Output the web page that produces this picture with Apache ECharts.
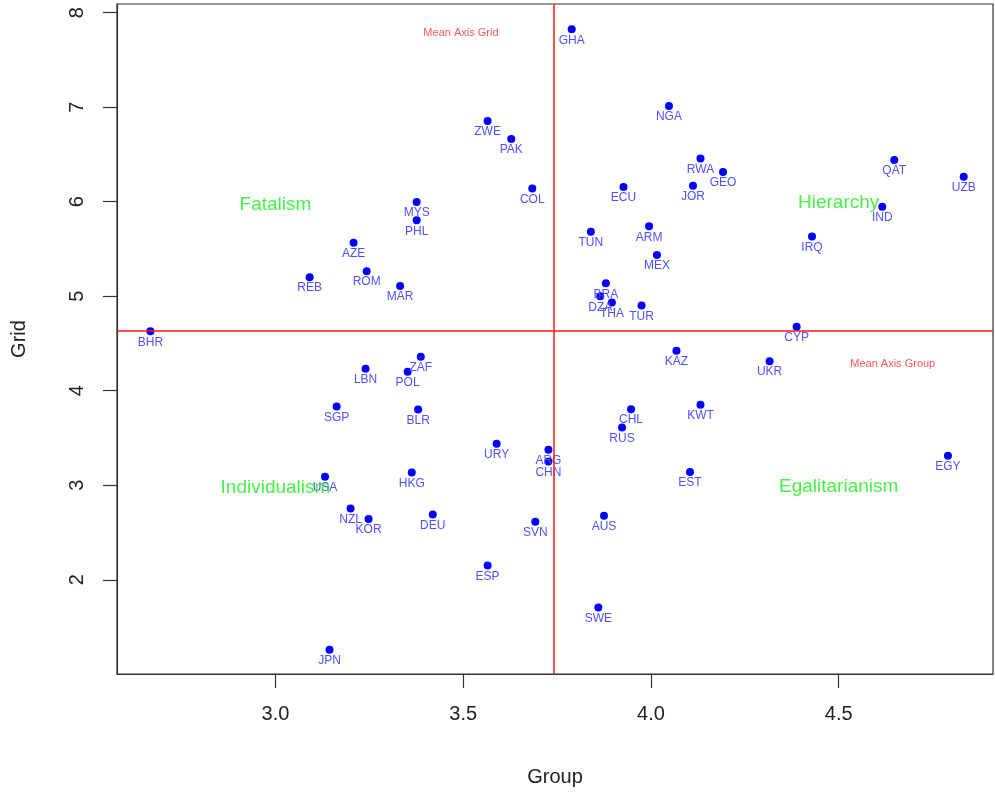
<!DOCTYPE html>
<html lang="en">
<head>
    <meta charset="UTF-8">
    <title>Group / Grid</title>
    <script src="https://cdn.jsdelivr.net/npm/echarts@6.0.0/dist/echarts.min.js"></script>
    <style>
        html, body { margin: 0; padding: 0; background: #ffffff; }
        #main { width: 995px; height: 794px; }
    </style>
</head>
<body>
    <div id="main"></div>
    <script type="text/javascript">
        // country codes and their (Group, Grid) scores
        var countries = ['GHA', 'NGA', 'ZWE', 'PAK', 'COL', 'ECU', 'RWA', 'GEO', 'JOR', 'TUN',
            'ARM', 'MEX', 'BRA', 'DZA', 'THA', 'TUR', 'MYS', 'PHL', 'AZE', 'ROM',
            'REB', 'MAR', 'BHR', 'QAT', 'UZB', 'IND', 'IRQ', 'CYP', 'UKR', 'ZAF',
            'LBN', 'POL', 'SGP', 'BLR', 'USA', 'HKG', 'NZL', 'KOR', 'DEU', 'JPN',
            'KAZ', 'KWT', 'CHL', 'RUS', 'URY', 'ARG', 'CHN', 'EST', 'SVN', 'AUS',
            'ESP', 'SWE', 'EGY'];
        var groupScores = [3.789, 4.048, 3.565, 3.628, 3.684, 3.927, 4.132, 4.192, 4.112, 3.840,
            3.995, 4.016, 3.880, 3.865, 3.896, 3.975, 3.376, 3.376, 3.208, 3.243,
            3.091, 3.332, 2.667, 4.648, 4.833, 4.616, 4.429, 4.388, 4.316, 3.387,
            3.240, 3.352, 3.163, 3.380, 3.132, 3.363, 3.200, 3.248, 3.419, 3.144,
            4.068, 4.132, 3.947, 3.923, 3.589, 3.727, 3.727, 4.104, 3.692, 3.875,
            3.565, 3.860, 4.791];
        var gridScores = [7.824, 7.013, 6.855, 6.664, 6.139, 6.157, 6.456, 6.315, 6.170, 5.681,
            5.741, 5.437, 5.138, 5.000, 4.933, 4.901, 5.998, 5.804, 5.567, 5.265,
            5.202, 5.109, 4.630, 6.442, 6.265, 5.948, 5.631, 4.676, 4.313, 4.359,
            4.232, 4.200, 3.833, 3.801, 3.089, 3.135, 2.754, 2.642, 2.691, 1.260,
            4.422, 3.851, 3.805, 3.611, 3.438, 3.375, 3.251, 3.139, 2.613, 2.677,
            2.151, 1.707, 3.312];

        // mean axes
        var meanGroup = 3.744;
        var meanGrid = 4.626;

        // quadrant names and where they sit
        var quadrantNames = ['Fatalism', 'Hierarchy', 'Individualism', 'Egalitarianism'];
        var quadrantX = [3.0, 4.5, 3.0, 4.5];
        var quadrantY = [5.97, 5.99, 2.97, 2.98];

        // notes for the mean lines
        var meanNotes = ['Mean Axis Grid', 'Mean Axis Group'];
        var meanNoteX = [3.494, 4.644];
        var meanNoteY = [7.785, 4.284];

        var xTicks = [3.0, 3.5, 4.0, 4.5];
        var yTicks = [2, 3, 4, 5, 6, 7, 8];

        var chart = echarts.init(document.getElementById('main'));

        var pointData = countries.map(function (c, i) {
            return [groupScores[i], gridScores[i], c];
        });
        var quadrantData = quadrantNames.map(function (n, i) {
            return [quadrantX[i], quadrantY[i], n];
        });
        var noteData = meanNotes.map(function (n, i) {
            return [meanNoteX[i], meanNoteY[i], n];
        });

        var fontFam = '"Liberation Sans", Arial, sans-serif';

        var option = {
            backgroundColor: '#ffffff',
            animation: false,
            grid: {
                left: 117, right: 2, top: 4, bottom: 120,
                show: true, borderColor: '#333', borderWidth: 1.2,
                backgroundColor: 'transparent'
            },
            xAxis: {
                type: 'value',
                min: 2.578, max: 4.911,
                name: 'Group',
                nameLocation: 'middle',
                nameGap: 93,
                nameTextStyle: { fontSize: 20, color: '#222', fontFamily: fontFam },
                axisLine: { show: true, onZero: false, lineStyle: { color: '#333', width: 1.2 } },
                axisTick: { show: true, length: 14, customValues: xTicks, lineStyle: { color: '#333', width: 1.2 } },
                axisLabel: {
                    customValues: xTicks, margin: 30, fontSize: 20, color: '#222', fontFamily: fontFam,
                    formatter: function (v) { return v.toFixed(1); }
                },
                splitLine: { show: false }
            },
            yAxis: {
                type: 'value',
                min: 1.003, max: 8.092,
                name: 'Grid',
                nameLocation: 'middle',
                nameGap: 88,
                nameTextStyle: { fontSize: 20, color: '#222', fontFamily: fontFam },
                axisLine: { show: true, onZero: false, lineStyle: { color: '#333', width: 1.2 } },
                axisTick: { show: true, length: 14, customValues: yTicks, lineStyle: { color: '#333', width: 1.2 } },
                axisLabel: {
                    customValues: yTicks, rotate: 90, margin: 30, fontSize: 20, color: '#222', fontFamily: fontFam
                },
                splitLine: { show: false }
            },
            series: [
                {
                    // mean lines
                    type: 'scatter',
                    data: [],
                    silent: true,
                    markLine: {
                        symbol: 'none',
                        silent: true,
                        label: { show: false },
                        lineStyle: { color: '#ff1a1a', width: 1.5, type: 'solid', opacity: 1 },
                        data: [{ xAxis: meanGroup }, { yAxis: meanGrid }]
                    }
                },
                {
                    name: 'countries',
                    type: 'scatter',
                    data: pointData,
                    symbol: 'circle',
                    symbolSize: 8,
                    itemStyle: { color: '#0000ff', opacity: 1 },
                    label: {
                        show: true,
                        position: 'bottom',
                        distance: 1,
                        fontSize: 12,
                        color: '#5050ff',
                        fontFamily: fontFam,
                        formatter: function (p) { return p.data[2]; }
                    }
                },
                {
                    name: 'quadrants',
                    type: 'scatter',
                    data: quadrantData,
                    symbolSize: 1,
                    itemStyle: { color: 'rgba(0,0,0,0)' },
                    label: {
                        show: true,
                        position: 'inside',
                        fontSize: 19,
                        color: '#1aee1a',
                        fontFamily: fontFam,
                        formatter: function (p) { return p.data[2]; }
                    }
                },
                {
                    name: 'notes',
                    type: 'scatter',
                    data: noteData,
                    symbolSize: 1,
                    itemStyle: { color: 'rgba(0,0,0,0)' },
                    label: {
                        show: true,
                        position: 'inside',
                        fontSize: 11,
                        color: '#ff2a2a',
                        fontFamily: fontFam,
                        formatter: function (p) { return p.data[2]; }
                    }
                }
            ]
        };

        chart.setOption(option);
    </script>
</body>
</html>
